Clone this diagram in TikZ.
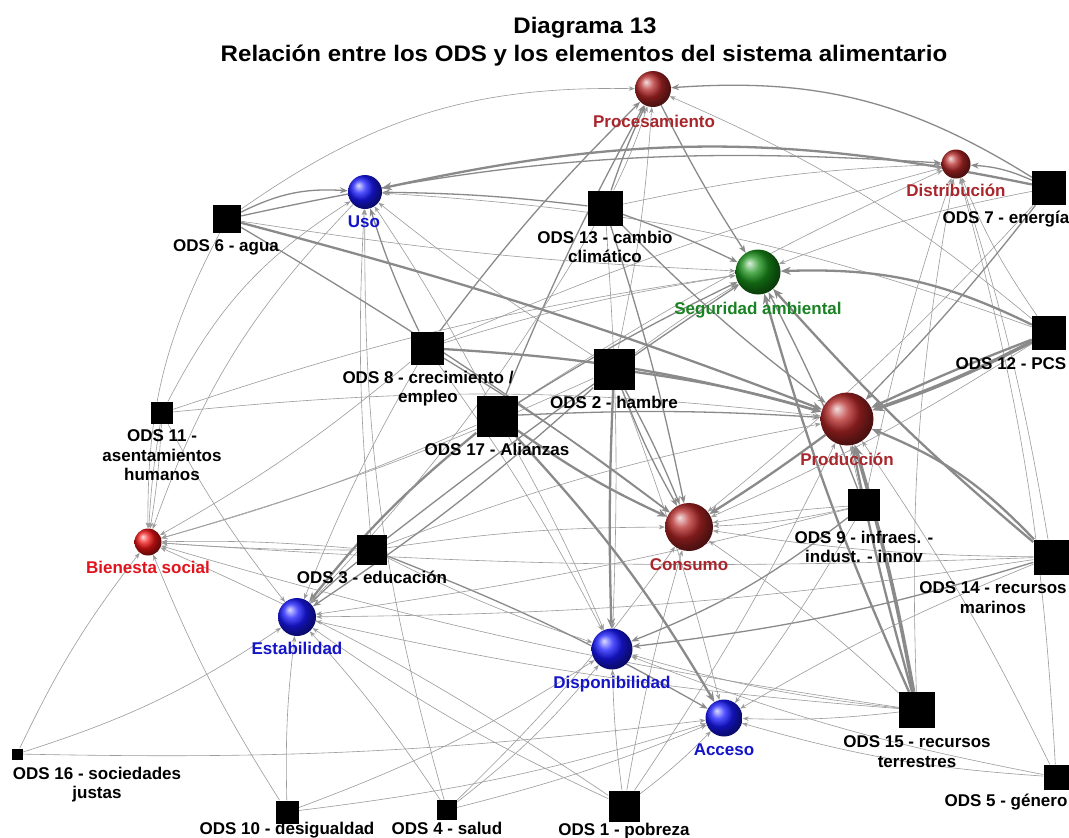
\documentclass[tikz,border=0pt]{standalone}
\usepackage{fontspec}
\setmainfont{Liberation Sans}
\newfontfamily\titlefont{Liberation Sans}[FakeStretch=1.07]
\usetikzlibrary{arrows.meta,shadings}
\pgfdeclarelayer{background}
\pgfdeclarelayer{edges}
\pgfsetlayers{background,edges,main}
\definecolor{balldred}{RGB}{180,38,38}
\definecolor{labdred}{RGB}{168,38,44}
\definecolor{ballred}{RGB}{240,20,20}
\definecolor{labred}{RGB}{225,20,30}
\definecolor{ballblue}{RGB}{25,25,255}
\definecolor{labblue}{RGB}{20,20,200}
\definecolor{ballgreen}{RGB}{25,145,25}
\definecolor{labgreen}{RGB}{25,130,35}
\definecolor{edgedark}{RGB}{138,138,138}
\definecolor{edgelight}{RGB}{155,155,155}
\newcommand\ed[4]{\draw[#1,#4] (#2) to (#3);}
\tikzset{
  sph/.style={circle, shading=ball, inner sep=0pt, minimum size=#1},
  sq/.style={rectangle, fill=black, inner sep=0pt, minimum size=#1},
  lab/.style={font=\bfseries\fontsize{17}{19.5}\selectfont, inner sep=0pt, align=center, anchor=north},
  ttl/.style={font=\titlefont\bfseries\fontsize{22.5}{26}\selectfont, inner sep=0pt, anchor=base},
  ethin/.style={draw=edgelight, line width=0.6pt, -{Stealth[length=6pt,width=4.5pt]}},
  emed/.style={draw=edgedark, line width=1.3pt, -{Stealth[length=8pt,width=6pt]}},
  ethick/.style={draw=edgedark, line width=2.3pt, -{Stealth[length=10pt,width=8pt]}},
  evthick/.style={draw=edgedark, line width=3.6pt, -{Stealth[length=12pt,width=10pt]}}
}
\begin{document}
\begin{tikzpicture}[x=1pt,y=1pt]
\begin{pgfonlayer}{background}
\fill[white] (0,0) rectangle (1069,-838);
\end{pgfonlayer}
\useasboundingbox (0,0) rectangle (1069,-838);

% title
\node[ttl] (t1) at (585,-33) {Diagrama 13};
\node[ttl] (t2) at (584,-61) {Relación entre los ODS y los elementos del sistema alimentario};

% spheres
\node[sph=36, ball color=balldred] (proc) at (653,-89) {};
\node[sph=29, ball color=balldred] (dist) at (956,-164) {};
\node[sph=34, ball color=ballblue] (uso) at (365,-192) {};
\node[sph=45, ball color=ballgreen] (sega) at (758,-272) {};
\node[sph=53, ball color=balldred] (prod) at (847,-419) {};
\node[sph=48, ball color=balldred] (cons) at (689,-527) {};
\node[sph=27, ball color=ballred] (bien) at (148,-542) {};
\node[sph=38, ball color=ballblue] (estab) at (297,-617) {};
\node[sph=41, ball color=ballblue] (disp) at (612,-649) {};
\node[sph=37, ball color=ballblue] (acc) at (724,-718) {};

% squares
\node[sq=28] (o6) at (227,-219) {};
\node[sq=35] (o13) at (605,-208) {};
\node[sq=34] (o7) at (1049,-188) {};
\node[sq=34] (o12) at (1049,-333) {};
\node[sq=33] (o8) at (427,-348) {};
\node[sq=41] (o2) at (614,-369) {};
\node[sq=41] (o17) at (497,-416) {};
\node[sq=22] (o11) at (162,-413) {};
\node[sq=32] (o9) at (864,-505) {};
\node[sq=30] (o3) at (372,-550) {};
\node[sq=35] (o14) at (1051,-557) {};
\node[sq=36] (o15) at (917,-710) {};
\node[sq=11] (o16) at (17,-754) {};
\node[sq=23] (o10) at (287,-812) {};
\node[sq=20] (o4) at (447,-810) {};
\node[sq=31] (o1) at (624,-806) {};
\node[sq=25] (o5) at (1056,-777) {};

% labels
\node[lab, text=labdred] (lproc) at (654,-114.7) {Procesamiento};
\node[lab, text=labdred] (ldist) at (956,-183.7) {Distribución};
\node[lab, text=labblue] (luso) at (364,-215.7) {Uso};
\node[lab, text=labgreen] (lsega) at (758,-301.7) {Seguridad ambiental};
\node[lab, text=labdred] (lprod) at (847,-452.7) {Producción};
\node[lab, text=labdred] (lcons) at (689,-558.7) {Consumo};
\node[lab, text=labred] (lbien) at (148,-560.7) {Bienesta social};
\node[lab, text=labblue] (lestab) at (297,-641.7) {Estabilidad};
\node[lab, text=labblue] (ldisp) at (612,-675.7) {Disponibilidad};
\node[lab, text=labblue] (lacc) at (724,-743.7) {Acceso};
\node[lab] (lo6) at (226,-239.7) {ODS 6 - agua};
\node[lab] (lo13) at (605,-230.7) {ODS 13 - cambio\\climático};
\node[lab] (lo7) at (1006,-210.7) {ODS 7 - energía};
\node[lab] (lo12) at (1011,-357.7) {ODS 12 - PCS};
\node[lab] (lo8) at (428,-370.7) {ODS 8 - crecimiento /\\empleo};
\node[lab] (lo2) at (614,-395.7) {ODS 2 - hambre};
\node[lab] (lo17) at (497,-442.7) {ODS 17 - Alianzas};
\node[lab] (lo11) at (162,-429.7) {ODS 11 -\\asentamientos\\humanos};
\node[lab] (lo9) at (864,-530.7) {ODS 9 - infraes. -\\indust. - innov};
\node[lab] (lo3) at (372,-570.7) {ODS 3 - educación};
\node[lab] (lo14) at (993,-581.7) {ODS 14 - recursos\\marinos};
\node[lab] (lo15) at (917,-735.7) {ODS 15 - recursos\\terrestres};
\node[lab] (lo16) at (97,-766.7) {ODS 16 - sociedades\\justas};
\node[lab] (lo10) at (287,-821.7) {ODS 10 - desigualdad};
\node[lab] (lo4) at (447,-821.7) {ODS 4 - salud};
\node[lab] (lo1) at (624,-822.7) {ODS 1 - pobreza};
\node[lab] (lo5) at (1006,-793.7) {ODS 5 - género};

\begin{pgfonlayer}{edges}
% Procesamiento
\ed{ethin}{o6}{proc}{bend left=18}
\ed{emed}{o7}{proc}{bend right=18}
\ed{emed}{o13}{proc}{bend left=3}
\ed{ethin}{o13}{proc}{bend right=4}
\ed{emed}{o8}{proc}{bend left=4}
\ed{ethin}{o2}{proc}{bend right=4}
\ed{emed}{o17}{proc}{bend left=3}
\ed{emed}{proc}{sega}{bend right=3}
\ed{ethin}{o12}{proc}{bend right=8}
% Uso
\ed{emed}{o6}{uso}{bend left=15}
\ed{ethick}{o7}{uso}{bend right=12}
\ed{emed}{o13}{uso}{bend right=3}
\ed{ethin}{o12}{uso}{bend right=8}
\ed{ethin}{o2}{uso}{bend left=3}
\ed{emed}{o8}{uso}{bend left=4}
\ed{ethin}{o17}{uso}{bend right=3}
\ed{ethin}{o3}{uso}{bend left=4}
\ed{ethin}{o4}{uso}{bend left=8}
\ed{ethin}{o11}{uso}{bend left=15}
\ed{ethin}{uso}{bien}{bend right=12}
% Distribucion
\ed{emed}{o7}{dist}{bend right=10}
\ed{ethin}{o13}{dist}{bend left=5}
\ed{ethin}{o8}{dist}{bend left=4}
\ed{ethin}{o17}{dist}{bend left=4}
\ed{ethin}{o9}{dist}{bend left=3}
\ed{ethin}{o15}{dist}{bend left=6}
\ed{ethin}{o14}{dist}{bend right=4}
\ed{ethin}{o12}{dist}{bend left=6}
\ed{ethin}{o5}{dist}{bend right=6}
\ed{emed}{o6}{dist}{bend left=8}
% Seguridad ambiental
\ed{ethick}{o12}{sega}{bend right=14}
\ed{emed}{o13}{sega}{bend left=3}
\ed{ethick}{o14}{sega}{bend left=4}
\ed{ethick}{o15}{sega}{bend left=4}
\ed{emed}{o9}{sega}{bend right=3}
\ed{ethin}{o8}{sega}{bend left=4}
\ed{emed}{o17}{sega}{bend left=3}
\ed{ethin}{o2}{sega}{bend left=3}
\ed{emed}{o3}{sega}{bend left=2}
\ed{ethin}{o6}{sega}{bend right=3}
\ed{ethin}{o11}{sega}{bend left=5}
\ed{ethin}{o7}{sega}{bend right=5}
% Produccion
\ed{evthick}{o12}{prod}{bend left=4}
\ed{ethick}{o12}{prod}{bend right=2}
\ed{ethick}{o14}{prod}{bend right=12}
\ed{evthick}{o15}{prod}{bend right=3}
\ed{ethick}{o15}{prod}{bend left=2}
\ed{ethick}{o2}{prod}{bend left=4}
\ed{ethick}{o8}{prod}{bend left=6}
\ed{emed}{o13}{prod}{bend right=4}
\ed{ethick}{o6}{prod}{bend left=3}
\ed{emed}{o7}{prod}{bend left=3}
\ed{emed}{o17}{prod}{bend left=3}
\ed{ethin}{o9}{prod}{bend left=3}
\ed{ethin}{o5}{prod}{bend right=4}
\ed{ethin}{o1}{prod}{bend right=4}
\ed{ethin}{o3}{prod}{bend left=5}
\ed{ethin}{o11}{prod}{bend left=6}
% Consumo
\ed{ethick}{prod}{cons}{bend left=2}
\ed{emed}{o2}{cons}{bend left=3}
\ed{emed}{o2}{cons}{bend right=4}
\ed{ethick}{o17}{cons}{bend right=5}
\ed{emed}{o8}{cons}{bend left=3}
\ed{emed}{o13}{cons}{bend left=3}
\ed{ethin}{o12}{cons}{bend left=4}
\ed{ethin}{o9}{cons}{bend right=3}
\ed{ethin}{o9}{cons}{bend left=5}
\ed{ethin}{o14}{cons}{bend left=4}
\ed{emed}{o6}{cons}{bend left=3}
\ed{ethin}{o3}{cons}{bend left=4}
\ed{ethin}{o1}{cons}{bend left=3}
\ed{ethin}{o15}{cons}{bend right=4}
\ed{ethin}{o4}{cons}{bend right=5}
\ed{ethin}{o7}{cons}{bend left=4}
% Disponibilidad
\ed{ethick}{o2}{disp}{bend right=2}
\ed{emed}{o9}{disp}{bend left=8}
\ed{emed}{o14}{disp}{bend left=5}
\ed{ethin}{o17}{disp}{bend left=3}
\ed{ethin}{o3}{disp}{bend right=4}
\ed{ethin}{o13}{disp}{bend left=3}
\ed{ethin}{o4}{disp}{bend right=6}
\ed{ethin}{o10}{disp}{bend right=6}
\ed{ethin}{o1}{disp}{bend left=3}
\ed{ethin}{o15}{disp}{bend left=5}
\ed{ethin}{o8}{disp}{bend left=4}
\ed{ethin}{o5}{disp}{bend left=5}
% Acceso
\ed{ethick}{o17}{acc}{bend left=6}
\ed{ethin}{o15}{acc}{bend left=4}
\ed{ethin}{o14}{acc}{bend right=4}
\ed{ethin}{o5}{acc}{bend left=6}
\ed{ethin}{o1}{acc}{bend right=4}
\ed{ethin}{o9}{acc}{bend left=3}
\ed{emed}{o3}{acc}{bend left=4}
\ed{ethin}{o4}{acc}{bend right=4}
\ed{ethin}{o10}{acc}{bend right=5}
\ed{ethin}{o16}{acc}{bend right=4}
\ed{ethin}{o2}{acc}{bend left=3}
% Estabilidad
\ed{ethick}{o17}{estab}{bend right=6}
\ed{emed}{o2}{estab}{bend left=4}
\ed{emed}{o3}{estab}{bend right=3}
\ed{ethin}{o13}{estab}{bend left=6}
\ed{ethin}{o11}{estab}{bend right=5}
\ed{ethin}{o10}{estab}{bend left=4}
\ed{ethin}{o4}{estab}{bend right=4}
\ed{ethin}{o1}{estab}{bend left=5}
\ed{ethin}{o16}{estab}{bend right=8}
\ed{ethin}{o14}{estab}{bend left=4}
\ed{ethin}{o15}{estab}{bend left=4}
\ed{ethin}{o9}{estab}{bend left=3}
\ed{ethin}{o8}{estab}{bend right=4}
% Bienestar social
\ed{ethin}{o11}{bien}{bend left=3}
\ed{ethin}{o11}{bien}{bend right=3}
\ed{ethin}{o6}{bien}{bend right=14}
\ed{ethin}{o8}{bien}{bend left=5}
\ed{ethin}{o17}{bien}{bend left=4}
\ed{ethin}{o3}{bien}{bend left=2}
\ed{ethin}{o3}{bien}{bend right=3}
\ed{ethin}{o2}{bien}{bend left=4}
\ed{ethin}{o16}{bien}{bend left=6}
\ed{ethin}{o10}{bien}{bend left=5}
\ed{ethin}{o1}{bien}{bend right=5}
\ed{ethin}{o14}{bien}{bend left=3}
\ed{ethin}{o15}{bien}{bend left=4}
\end{pgfonlayer}
\end{tikzpicture}
\end{document}
